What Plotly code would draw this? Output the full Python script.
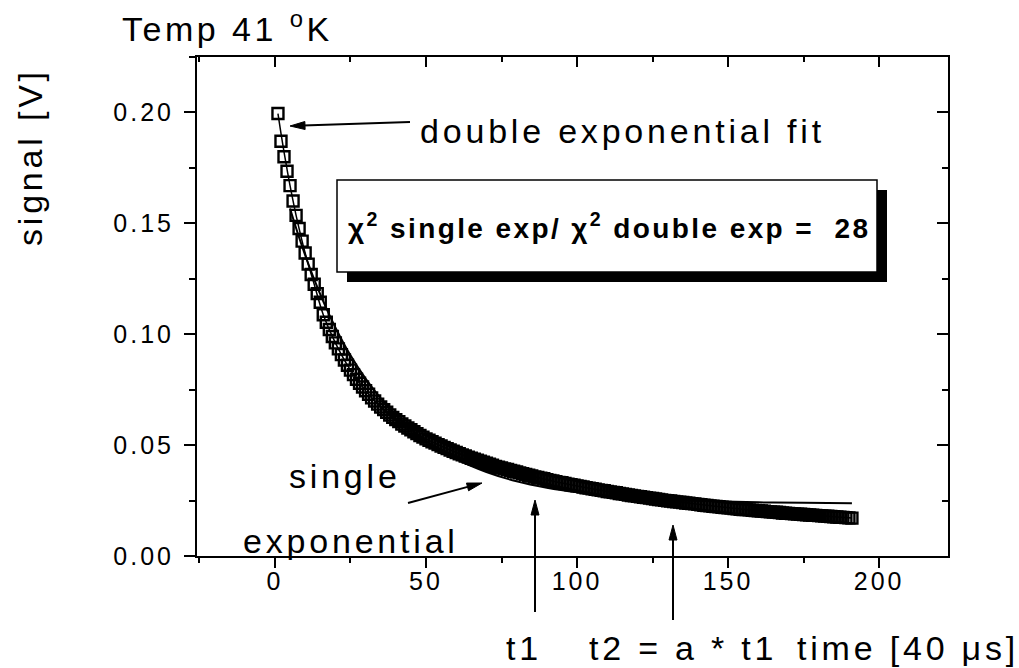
import plotly.graph_objects as go

# ---- measured decay signal (time in units of 40 us) ----
time = list(range(1, 192))
signal = [
    .1995, .1870, .1800, .1735, .1670, .1601, .1536, .1477, .1420, .1366,
    .1316, .1269, .1225, .1183, .1144, .1088, .1054, .1021, .0990, .0961,
    .0934, .0908, .0884, .0860, .0838, .0818, .0797, .0779, .0762, .0745,
    .0729, .0713, .0699, .0685, .0672, .0660, .0648, .0636, .0625, .0615,
    .0606, .0595, .0586, .0577, .0569, .0560, .0552, .0543, .0536, .0528,
    .0522, .0515, .0509, .0502, .0496, .0490, .0484, .0478, .0472, .0467,
    .0461, .0456, .0451, .0446, .0441, .0436, .0432, .0427, .0423, .0418,
    .0414, .0409, .0404, .0400, .0397, .0393, .0390, .0386, .0382, .0379,
    .0375, .0371, .0368, .0364, .0361, .0357, .0354, .0351, .0348, .0344,
    .0341, .0338, .0335, .0332, .0330, .0327, .0324, .0321, .0319, .0316,
    .0314, .0311, .0308, .0306, .0303, .0301, .0298, .0296, .0294, .0291,
    .0289, .0287, .0285, .0282, .0280, .0278, .0275, .0273, .0271, .0269,
    .0267, .0265, .0263, .0261, .0259, .0257, .0255, .0253, .0251, .0249,
    .0248, .0246, .0244, .0243, .0241, .0239, .0238, .0236, .0235, .0233,
    .0231, .0229, .0228, .0226, .0224, .0223, .0222, .0220, .0219, .0217,
    .0216, .0214, .0213, .0211, .0210, .0209, .0208, .0206, .0205, .0204,
    .0203, .0202, .0200, .0199, .0198, .0197, .0196, .0194, .0193, .0192,
    .0191, .0190, .0189, .0188, .0187, .0186, .0185, .0184, .0183, .0182,
    .0181, .0180, .0179, .0178, .0177, .0176, .0175, .0174, .0173, .0172,
    .0171,
]

# ---- fitted curves ----
double_t = [1, 2, 3, 4, 5, 7, 10, 13, 16, 20, 25, 30, 35, 40, 45, 50,
            60, 70, 80, 90, 100, 120, 140, 160, 180, 191]
double_fit = [.1995, .1906, .1822, .1744, .1670, .1536, .1366, .1225, .1088,
              .0961, .0838, .0745, .0672, .0615, .0569, .0528, .0467, .0418,
              .0379, .0344, .0316, .0269, .0233, .0204, .0182, .0171]

single_t = [5, 8, 10, 13, 16, 20, 25, 30, 35, 40, 45, 50, 60, 70,
            80, 90, 100, 110, 120, 130, 145, 160, 175, 191]
single_fit = [.1567, .1436, .1357, .1247, .1148, .1031, .0905,
              .0800, .0711, .0636, .0573, .0519, .0437, .0379, .0337, .0308,
              .0287, .0272, .0262, .0254, .0247, .0242, .0240, .0238]

# ---- axes ----
x_ticks = [0, 50, 100, 150, 200]
x_tick_labels = ["0", "50", "100", "150", "200"]
y_ticks = [0.0, 0.05, 0.10, 0.15, 0.20]
y_tick_labels = ["0.00", "0.05", "0.10", "0.15", "0.20"]
x_range = [-25.8, 222.8]
y_range = [0.0, 0.225]

ratio_text = "χ<sup>2</sup> single exp/ χ<sup>2</sup> double exp =  28"

W, H = 1019, 668
L, R, T, B = 197, 948, 57, 556   # plot-area edges in pixels

FONT = "Liberation Sans, Arial, Helvetica, sans-serif"


def px_x(px):
    return (px - L) / (R - L)


def px_y(py):
    return (B - py) / (B - T)


def spaced(s, ls):
    return f'<span style="letter-spacing:{ls}px">{s}</span>'


fig = go.Figure()

fig.add_trace(go.Scatter(
    x=single_t, y=single_fit, mode="lines",
    line=dict(color="black", width=2, shape="spline"),
    showlegend=False, hoverinfo="skip"))
fig.add_trace(go.Scatter(
    x=double_t, y=double_fit, mode="lines",
    line=dict(color="black", width=1.5, shape="spline"),
    showlegend=False, hoverinfo="skip"))
fig.add_trace(go.Scatter(
    x=time, y=signal, mode="markers",
    marker=dict(symbol="square-open", size=11, color="black",
                line=dict(width=2.4, color="black")),
    showlegend=False))
# carrier for the mirrored top / right frame axes
fig.add_trace(go.Scatter(x=[None], y=[None], xaxis="x2", yaxis="y2",
                         showlegend=False, hoverinfo="skip"))

tickfont = dict(family=FONT, size=25, color="black")
common = dict(showline=True, linecolor="black", linewidth=2,
              showgrid=False, zeroline=False)

fig.update_layout(
    width=W, height=H,
    margin=dict(l=L, r=W - R, t=T, b=H - B),
    paper_bgcolor="white", plot_bgcolor="white",
    xaxis=dict(range=x_range, tickmode="array", tickvals=x_ticks,
               ticktext=[spaced(t, 3) for t in x_tick_labels],
               ticks="outside", ticklen=10, tickwidth=2, tickcolor="black",
               minor=dict(tickmode="linear", tick0=0, dtick=25,
                          ticks="outside", ticklen=5, tickwidth=2,
                          tickcolor="black", showgrid=False),
               tickfont=tickfont, ticklabelstandoff=-8, **common),
    yaxis=dict(range=y_range, tickmode="array", tickvals=y_ticks,
               ticktext=[spaced(t, 3) for t in y_tick_labels],
               ticks="outside", ticklen=11, tickwidth=2, tickcolor="black",
               minor=dict(tickmode="linear", tick0=0, dtick=0.025,
                          ticks="outside", ticklen=6, tickwidth=2,
                          tickcolor="black", showgrid=False),
               tickfont=tickfont, ticklabelstandoff=5, **common),
    xaxis2=dict(range=x_range, overlaying="x", side="top", anchor="y2",
                tickmode="linear", tick0=0, dtick=50, showticklabels=False,
                ticks="inside", ticklen=10, tickwidth=2, tickcolor="black",
                minor=dict(tickmode="linear", tick0=0, dtick=25,
                           ticks="inside", ticklen=5, tickwidth=2,
                           tickcolor="black", showgrid=False),
                **common),
    yaxis2=dict(range=y_range, overlaying="y", side="right", anchor="x2",
                tickmode="linear", tick0=0, dtick=0.05, showticklabels=False,
                ticks="inside", ticklen=11, tickwidth=2, tickcolor="black",
                minor=dict(tickmode="linear", tick0=0, dtick=0.025,
                           ticks="inside", ticklen=6, tickwidth=2,
                           tickcolor="black", showgrid=False),
                **common),
)

shapes = []
# shadowed ratio box
shapes.append(dict(type="rect", xref="paper", yref="paper", layer="above",
                   x0=px_x(347), x1=px_x(887), y0=px_y(282), y1=px_y(190),
                   fillcolor="black", line=dict(width=0)))
shapes.append(dict(type="rect", xref="paper", yref="paper", layer="above",
                   x0=px_x(337), x1=px_x(877), y0=px_y(272), y1=px_y(180),
                   fillcolor="white", line=dict(color="black", width=1.5)))


def arrow(x0, y0, x1, y1, head_len=15, head_w=8, width=2):
    """Arrow from tail (x0, y0) to tip (x1, y1), given in pixels."""
    dx, dy = x1 - x0, y1 - y0
    n = (dx * dx + dy * dy) ** 0.5
    ux, uy = dx / n, dy / n
    bx, by = x1 - ux * head_len, y1 - uy * head_len
    px_, py_ = -uy * head_w / 2, ux * head_w / 2
    shapes.append(dict(type="line", xref="paper", yref="paper", layer="above",
                       x0=px_x(x0), y0=px_y(y0),
                       x1=px_x(bx + ux * 2), y1=px_y(by + uy * 2),
                       line=dict(color="black", width=width)))
    path = (f"M {px_x(x1)},{px_y(y1)} "
            f"L {px_x(bx + px_)},{px_y(by + py_)} "
            f"L {px_x(bx - px_)},{px_y(by - py_)} Z")
    shapes.append(dict(type="path", xref="paper", yref="paper", layer="above",
                       path=path, fillcolor="black",
                       line=dict(color="black", width=1)))


arrow(410, 122, 290, 126)   # double exponential fit
arrow(408, 503, 482, 483)   # single exponential
arrow(535, 612, 535, 500)   # t1
arrow(673, 620, 673, 525)   # t2

fig.update_layout(shapes=shapes)

big = dict(family=FONT, size=34, color="black")


def label(text, px, py, xanchor="center", font=big, ls=3.8, angle=0):
    fig.add_annotation(text=spaced(text, ls), xref="paper", yref="paper",
                       x=px_x(px), y=px_y(py), xanchor=xanchor,
                       yanchor="middle", showarrow=False, font=font,
                       textangle=angle)


label("Temp 41 <sup>o</sup>K", 120, 26, xanchor="left", ls=3.5)
label("signal [V]", 30, 157, angle=-90)
label("double exponential fit", 418, 131, xanchor="left")
label("single", 345, 476)
label("exponential", 351, 541)
label("t1", 524, 648)
label("t2 = a * t1", 683, 648)
label("time [40 μs]", 908, 648)
label(ratio_text, 609, 226,
      font=dict(family=FONT, size=28, color="black", weight="bold"), ls=2.4)

fig.write_html("out.html")
